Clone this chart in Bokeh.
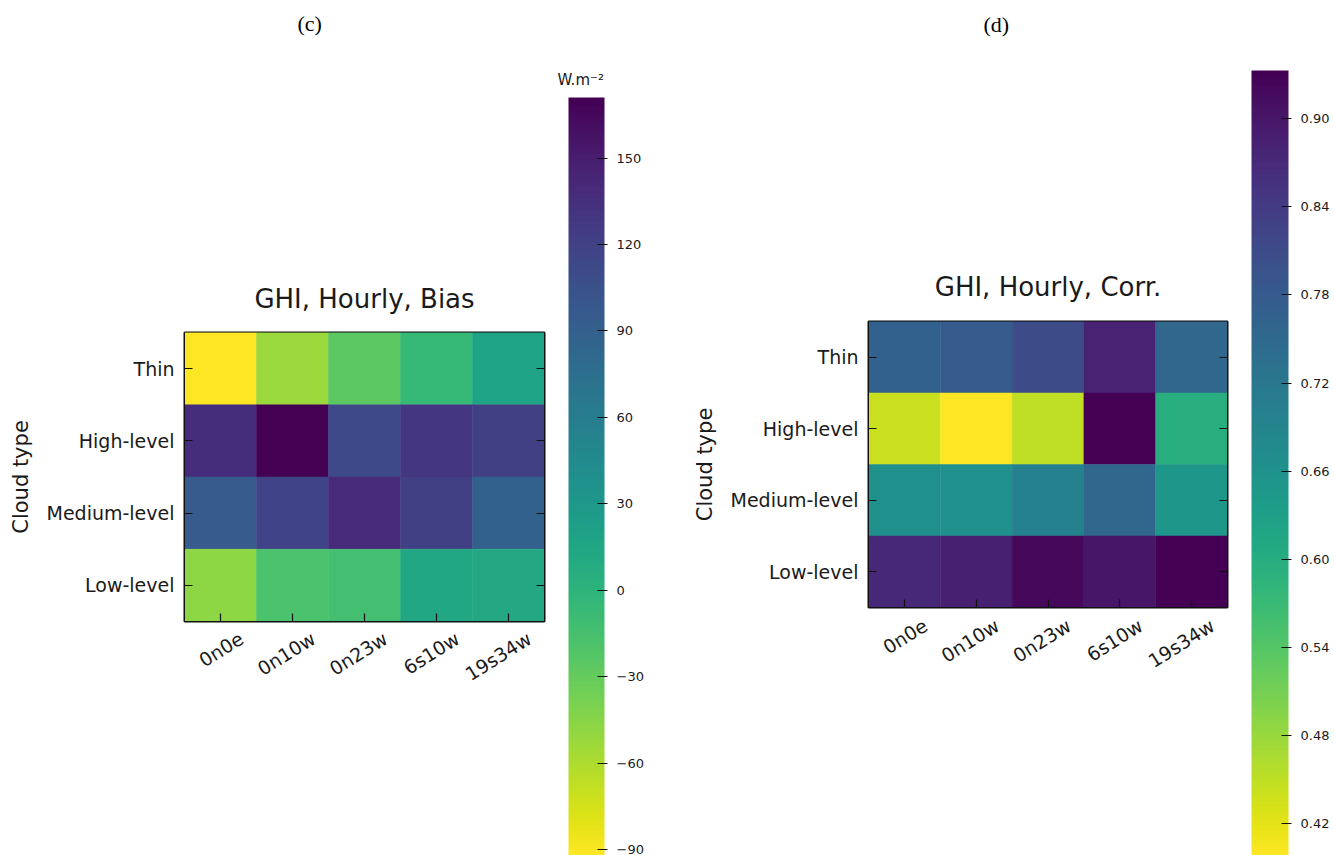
import math
from bokeh.plotting import figure
from bokeh.models import (ColumnDataSource, LinearColorMapper, ColorBar, FixedTicker,
                          LinearAxis, Range1d, Title)
from bokeh.palettes import Viridis256
from bokeh.layouts import row, column
from bokeh.embed import file_html
from bokeh.resources import INLINE
from bokeh.transform import transform

# ---------------- data ----------------
sites = ["0n0e", "0n10w", "0n23w", "6s10w", "19s34w"]
cloud_types = ["Thin", "High-level", "Medium-level", "Low-level"]

bias_thin = [-92, -52, -26, -5, 18]
bias_high = [137, 171, 113, 129, 121]
bias_medium = [95, 118, 139, 121, 89]
bias_low = [-47, -18, -13, 13, 12]
bias_low_lim, bias_high_lim = -92, 171
bias_ticks = [-90, -60, -30, 0, 30, 60, 90, 120, 150]
bias_tick_labels = ["\u221290", "\u221260", "\u221230", "0", "30", "60", "90", "120", "150"]

corr_thin = [0.767, 0.778, 0.81, 0.88, 0.757]
corr_high = [0.44, 0.398, 0.45, 0.933, 0.596]
corr_medium = [0.665, 0.665, 0.698, 0.757, 0.65]
corr_low = [0.874, 0.885, 0.922, 0.90, 0.933]
corr_low_lim, corr_high_lim = 0.398, 0.933
corr_ticks = [0.42, 0.48, 0.54, 0.60, 0.66, 0.72, 0.78, 0.84, 0.90]
corr_tick_labels = ["0.42", "0.48", "0.54", "0.60", "0.66", "0.72", "0.78", "0.84", "0.90"]

FONT = "DejaVu Sans"
TXT = "#1a1a1a"
H = 855


def stack_title(p, text, font, size, standoff, align="center", offset=0, color=TXT):
    p.add_layout(Title(text=text, align=align, offset=offset, standoff=standoff,
                       text_font=font, text_font_size=size, text_font_style="normal",
                       text_color=color), "above")


def panel(rows, mapper, ticks, labels, width, fl, fw, ft, fh,
          bar_left, bar_top, bar_w, label_offset, label_standoff, titles):
    n_rows = len(cloud_types)
    xcentres = [i + 0.5 for i in range(len(sites))]
    ycentres = [n_rows - 0.5 - j for j in range(n_rows)]   # first category on top
    xs, ys, vs = [], [], []
    for yc, vals in zip(ycentres, rows):
        for xc, v in zip(xcentres, vals):
            xs.append(xc)
            ys.append(yc)
            vs.append(v)
    src = ColumnDataSource(dict(x=xs, y=ys, v=vs))
    p = figure(width=width, height=H, x_range=Range1d(0, len(sites)),
               y_range=Range1d(0, n_rows),
               toolbar_location=None, output_backend="svg",
               min_border_left=fl, min_border_right=width - fl - fw,
               min_border_top=ft, min_border_bottom=H - ft - fh)
    p.rect(x="x", y="y", width=1, height=1, source=src,
           fill_color=transform("v", mapper), line_color=transform("v", mapper),
           line_width=0.5)
    p.grid.visible = False
    p.outline_line_color = "#111111"
    p.outline_line_width = 2
    p.border_fill_color = "white"
    p.title = None

    p.xaxis.ticker = FixedTicker(ticks=xcentres)
    p.yaxis.ticker = FixedTicker(ticks=ycentres)
    for ax in p.axis:
        ax.major_tick_in = 8
        ax.major_tick_out = 0
        ax.minor_tick_line_color = None
        ax.major_tick_line_color = "#111111"
        ax.major_tick_line_width = 1.2
        ax.axis_line_color = "#111111"
        ax.major_label_text_font = FONT
        ax.major_label_text_font_size = "19px"
        ax.major_label_text_color = TXT
    p.xaxis.major_label_overrides = {c: "" for c in xcentres}
    p.xaxis.major_label_standoff = 0
    p.yaxis.major_label_overrides = {c: name for c, name in zip(ycentres, cloud_types)}
    p.yaxis.major_label_standoff = 10
    p.yaxis.axis_label = "Cloud type"
    p.yaxis.axis_label_text_font = FONT
    p.yaxis.axis_label_text_font_size = "21px"
    p.yaxis.axis_label_text_font_style = "normal"
    p.yaxis.axis_label_text_color = TXT
    p.yaxis.axis_label_standoff = 10

    # rotated site labels, nudged so each one sits centred under its tick
    shift = label_offset / (fw / len(sites))
    pos = [round(c + shift, 3) for c in xcentres]
    lab_axis = LinearAxis(ticker=FixedTicker(ticks=pos),
                          major_label_overrides={k: s for k, s in zip(pos, sites)},
                          major_label_orientation=math.radians(32),
                          major_tick_line_color=None, minor_tick_line_color=None,
                          axis_line_color=None, major_label_standoff=label_standoff,
                          major_label_text_font=FONT, major_label_text_font_size="19px",
                          major_label_text_color=TXT)
    p.add_layout(lab_axis, "below")

    yr = LinearAxis(ticker=FixedTicker(ticks=ycentres),
                    major_tick_in=8, major_tick_out=0, minor_tick_line_color=None,
                    major_tick_line_color="#111111", major_tick_line_width=1.2,
                    axis_line_color="#111111",
                    major_label_overrides={c: "" for c in ycentres},
                    major_label_standoff=0)
    p.add_layout(yr, "right")

    fb = ft + fh
    cb = ColorBar(color_mapper=mapper, ticker=FixedTicker(ticks=ticks),
                  major_label_overrides={t: l for t, l in zip(ticks, labels)},
                  location=(bar_left - fl, -(H - fb)), width=bar_w, height=H - bar_top,
                  padding=0, margin=0,
                  major_tick_in=7, major_tick_out=3, major_tick_line_color="#111111",
                  major_tick_line_width=1.2, minor_tick_line_color=None,
                  label_standoff=9, major_label_text_font=FONT,
                  major_label_text_font_size="13px", major_label_text_color=TXT,
                  bar_line_color=None, border_line_color=None,
                  background_fill_color=None)
    p.add_layout(cb)

    # titles stacked outward from the frame (each is centred in its own band)
    for t in titles:
        stack_title(p, *t)
    return p


bias_mapper = LinearColorMapper(palette=Viridis256[::-1], low=bias_low_lim, high=bias_high_lim)
corr_mapper = LinearColorMapper(palette=Viridis256[::-1], low=corr_low_lim, high=corr_high_lim)

SER = "Liberation Serif"
pa = panel([bias_thin, bias_high, bias_medium, bias_low], bias_mapper, bias_ticks,
           bias_tick_labels, 690, 184, 360, 332, 289, 568, 97, 36, 21, 9,
           [("GHI, Hourly, Bias", FONT, "26px", 38),
            (" ", FONT, "10px", 152),
            ("W.m\u207b\u00b2", FONT, "15px", 18, "left", 373),
            (" ", FONT, "10px", 11),
            ("(c)", SER, "22px", 0, "left", 113, "black")])
pc = panel([corr_thin, corr_high, corr_medium, corr_low], corr_mapper, corr_ticks,
           corr_tick_labels, 644, 178, 359, 321, 286, 1251 - 690, 70, 37, 21, 10,
           [("GHI, Hourly, Corr.", FONT, "26px", 40),
            (" ", FONT, "10px", 200),
            ("(d)", SER, "22px", 0, "left", 115, "black")])

layout = row(column(pa), column(pc), spacing=0)
open("out.html", "w").write(file_html(layout, INLINE))
